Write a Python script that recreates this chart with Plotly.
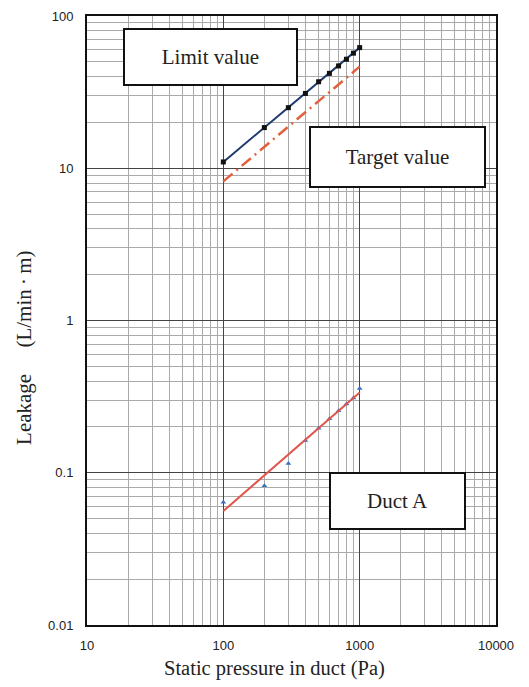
import plotly.graph_objects as go

pressure = [100, 200, 300, 400, 500, 600, 700, 800, 900, 1000]
limit_value = [11.0, 18.5, 25.0, 31.0, 37.0, 42.0, 47.0, 52.0, 57.0, 62.0]
target_value = [8.2, 13.9, 18.8, 23.3, 27.6, 31.6, 35.5, 39.2, 42.9, 46.5]

duct_a_pressure = [100, 200, 300, 400, 500, 600, 700, 800, 900, 1000]
duct_a_leak = [0.064, 0.082, 0.115, 0.163, 0.196, 0.226, 0.255, 0.283, 0.31, 0.357]
duct_a_fit_p = [100, 1000]
duct_a_fit_q = [0.056, 0.336]

x_ticks = [10, 100, 1000, 10000]
x_ticktext = ["10", "100", "1000", "10000"]
y_ticks = [0.01, 0.1, 1, 10, 100]
y_ticktext = ["0.01", "0.1", "1", "10", "100"]

x_title = "Static pressure in duct (Pa)"
y_title = "Leakage\u3000 (L/min\u2009\u00b7\u2009m)"

fig = go.Figure()
fig.add_trace(go.Scatter(x=pressure, y=target_value, mode="lines",
                         line=dict(color="#e2603c", width=2.5, dash="12px,5px,2px,5px"),
                         name="Target value"))
fig.add_trace(go.Scatter(x=pressure, y=limit_value, mode="lines+markers",
                         line=dict(color="#1f3a70", width=2),
                         marker=dict(symbol="square", size=5, color="#111111"),
                         name="Limit value"))
fig.add_trace(go.Scatter(x=duct_a_pressure, y=duct_a_leak, mode="markers",
                         marker=dict(symbol="triangle-up", size=5, color="#3b6fc2"),
                         name="Duct A"))
fig.add_trace(go.Scatter(x=duct_a_fit_p, y=duct_a_fit_q, mode="lines",
                         line=dict(color="#e0564c", width=2),
                         name="Duct A fit"))

serif = "Liberation Serif, Times New Roman, serif"
sans = "Liberation Sans, Arial, sans-serif"

fig.update_xaxes(type="log", range=[1, 4], tickvals=x_ticks, ticktext=x_ticktext,
                 showline=True, linecolor="#111", linewidth=2, mirror=True,
                 showgrid=True, gridcolor="#444", gridwidth=1,
                 minor=dict(dtick="D1", showgrid=True, gridcolor="#aaaaaa", gridwidth=0.8),
                 ticks="", ticklabelstandoff=7, automargin=False,
                 tickfont=dict(family=sans, size=13, color="#222"),
                 zeroline=False)
fig.update_yaxes(type="log", range=[-2, 2], tickvals=y_ticks, ticktext=y_ticktext,
                 showline=True, linecolor="#111", linewidth=2, mirror=True,
                 showgrid=True, gridcolor="#444", gridwidth=1,
                 minor=dict(dtick="D1", showgrid=True, gridcolor="#aaaaaa", gridwidth=0.8),
                 ticks="", ticklabelstandoff=9, automargin=False,
                 tickfont=dict(family=sans, size=13, color="#222"),
                 zeroline=False)

# axis titles (placed as annotations to match the reference offsets)
fig.add_annotation(text=x_title, x=0.458, y=-0.071, xref="paper", yref="paper",
                   showarrow=False, xanchor="center", yanchor="middle",
                   font=dict(family=serif, size=20.5, color="#222"))
fig.add_annotation(text=y_title, x=-0.154, y=0.455, xref="paper", yref="paper",
                   showarrow=False, xanchor="center", yanchor="middle", textangle=-90,
                   font=dict(family=serif, size=21, color="#222"))

boxes = [
    ("Limit value", 0.302, 0.932, 171, 54),
    ("Target value", 0.759, 0.768, 173, 58),
    ("Duct A", 0.758, 0.204, 133, 54),
]
for text, bx, by, w, h in boxes:
    fig.add_annotation(text=text, x=bx, y=by, xref="paper", yref="paper",
                       showarrow=False, width=w, height=h, bgcolor="white",
                       bordercolor="#111", borderwidth=2, borderpad=0,
                       font=dict(family=serif, size=21, color="#222"),
                       xanchor="center", yanchor="middle")

# page body has an 8px default margin, so the figure is sized to fit inside the window
fig.update_layout(width=521, height=679, margin=dict(l=79, r=33, t=8, b=62),
                  paper_bgcolor="white", plot_bgcolor="white", showlegend=False)

fig.write_html("out.html")
